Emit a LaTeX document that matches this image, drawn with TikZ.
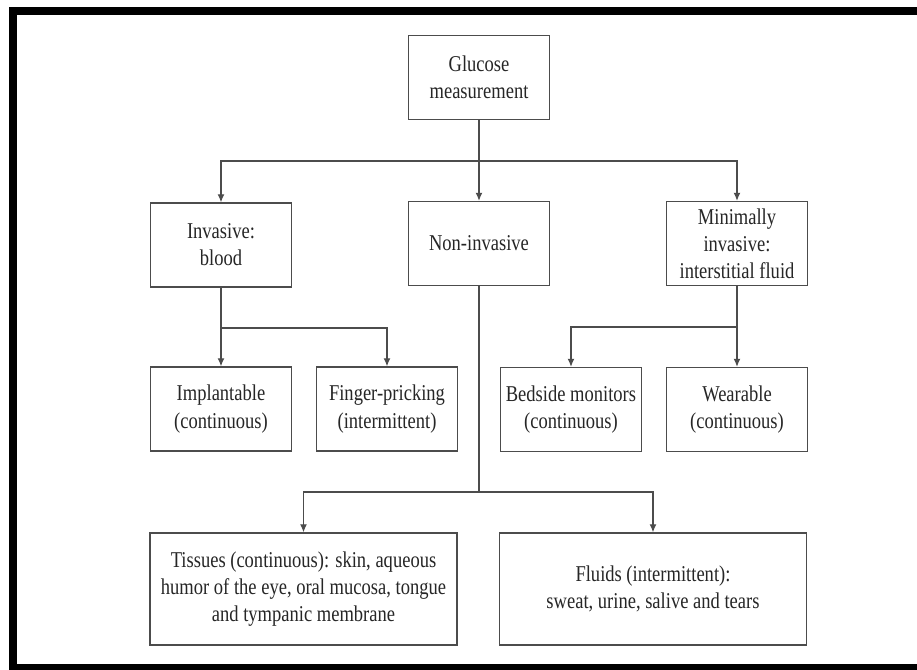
\documentclass[tikz,border=0pt]{standalone}
\usepackage{fontspec}
\setmainfont{Liberation Serif}[FakeStretch=0.82]
\usetikzlibrary{arrows.meta}
\tikzset{every node/.style={rectangle,draw=black!70,line width=0.7pt,align=center,inner sep=0pt,text=black!85}}
\tikzset{bx/.style={minimum width=70.5pt,minimum height=42pt}}
\tikzset{big/.style={minimum width=153.5pt,minimum height=56pt}}
\tikzset{ln/.style={draw=black!70,line width=0.6pt}}
\tikzset{arr/.style={-{Latex[length=4pt,width=3.5pt]}}}

\begin{document}
\begin{tikzpicture}[x=0.5pt,y=-0.5pt,font=\fontsize{11.3}{13.6}\selectfont]
\useasboundingbox[fill=white] (0,0) rectangle (917,670);
\draw[line width=4pt] (12.5,11) rectangle (925,668);
\node[bx] (glucose) at (479,77.5) {Glucose\\measurement};
\node[bx] (invasive) at (221,245) {Invasive:\\blood};
\node[bx] (noninv) at (479,243.5) {Non-invasive};
\node[bx] (minimal) at (737,243.5) {Minimally\\invasive:\\interstitial fluid};
\node[bx] (implant) at (221,409) {Implantable\\(continuous)};
\node[bx] (finger) at (387,409) {Finger-pricking\\(intermittent)};
\node[bx] (bedside) at (571,409.5) {Bedside monitors\\(continuous)};
\node[bx] (wearable) at (737,409.5) {Wearable\\(continuous)};
\node[big] (tissues) at (303.5,589) {Tissues (continuous): skin, aqueous\\humor of the eye, oral mucosa, tongue\\and tympanic membrane};
\node[big] (fluids) at (653,589) {Fluids (intermittent):\\sweat, urine, salive and tears};
\coordinate (s1) at (479,161);
\coordinate (s2) at (221,328);
\coordinate (s3) at (737,327);
\coordinate (s4) at (479,492);
\draw[ln] (glucose) -- (s1);
\draw[ln,arr] (s1) -| (invasive);
\draw[ln,arr] (s1) -- (noninv);
\draw[ln,arr] (s1) -| (minimal);
\draw[ln] (invasive) -- (s2);
\draw[ln,arr] (s2) -- (implant);
\draw[ln,arr] (s2) -| (finger);
\draw[ln] (minimal) -- (s3);
\draw[ln,arr] (s3) -| (bedside);
\draw[ln,arr] (s3) -- (wearable);
\draw[ln] (noninv) -- (s4);
\draw[ln,arr] (s4) -| (tissues);
\draw[ln,arr] (s4) -| (fluids);
\end{tikzpicture}
\end{document}
